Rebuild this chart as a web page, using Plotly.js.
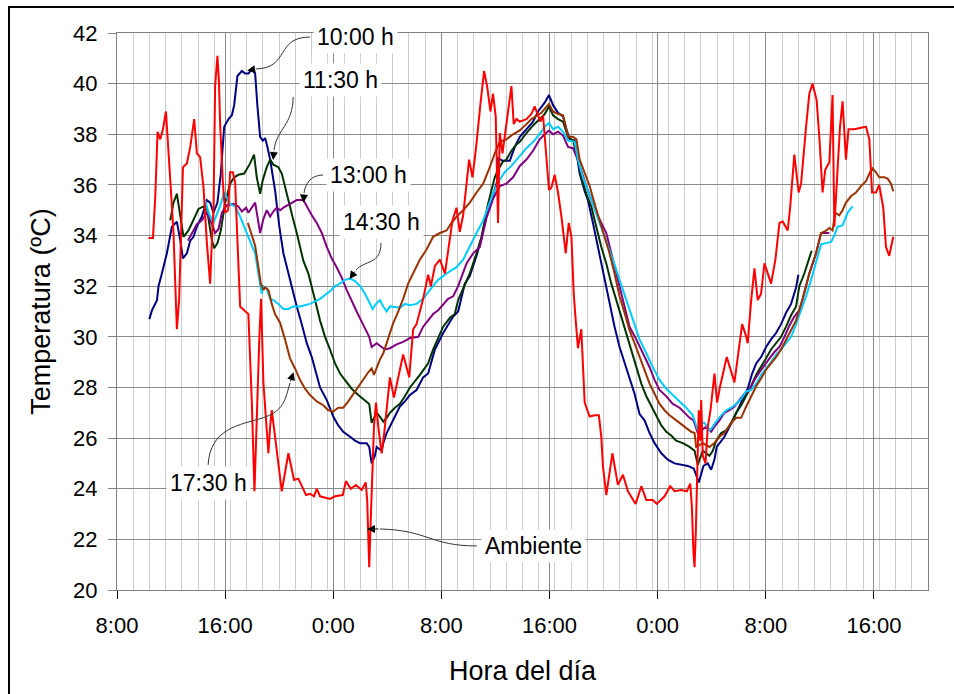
<!DOCTYPE html>
<html><head><meta charset="utf-8">
<script src="https://cdn.plot.ly/plotly-3.0.1.min.js"></script>
<style>
html,body{margin:0;padding:0;background:#fff;}
#wrap{position:relative;width:954px;height:694px;overflow:hidden;}
#chart{width:954px;height:694px;}
#frame{position:absolute;left:8px;top:6px;width:960px;height:700px;border-top:2px solid #000;border-left:2px solid #000;pointer-events:none;}
</style></head><body>
<div id="wrap"><div id="chart"></div><div id="frame"></div></div>
<script>
// x = hours elapsed since 8:00 of the first day, y = temperature (ºC)
const xTickVals = [0,8,16,24,32,40,48,56];
const xTickLabels = ['8:00','16:00','0:00','8:00','16:00','0:00','8:00','16:00'];
const seriesNames = ['10:00 h','11:30 h','13:00 h','14:30 h','17:30 h','Ambiente'];

const s1000 = [[2.39,30.7],[2.59,31.05],[2.96,31.45],[3.07,32.0],[3.32,32.5],[3.69,33.3],[4.06,34.35],[4.43,34.55],[4.68,33.8],[4.88,33.1],[5.17,33.3],[5.42,33.8],[5.66,33.95],[5.91,34.35],[6.28,34.75],[6.65,35.4],[6.89,35.3],[7.14,34.9],[7.43,35.3],[7.68,36.45],[7.93,38.3],[8.25,38.6],[8.50,38.75],[8.67,39.15],[8.91,40.3],[9.24,40.5],[9.48,40.4],[9.72,40.4],[9.97,40.55],[10.22,40.4],[10.39,39.1],[10.59,37.9],[10.79,37.75],[10.96,37.85],[11.13,37.5],[11.33,37.0],[11.69,35.8],[12.01,34.35],[12.31,33.3],[12.60,32.65],[12.93,32.0],[13.30,31.2],[13.67,30.5],[14.04,29.75],[14.41,29.2],[14.65,28.7],[15.02,28.0],[15.52,27.5],[16.00,26.85],[16.37,26.5],[16.74,26.25],[17.24,26.05],[17.61,25.9],[17.98,25.8],[18.47,25.8],[18.66,25.65],[18.84,25.0],[19.08,25.3],[19.21,25.65],[19.58,25.5],[19.70,25.8],[19.95,26.2],[20.32,26.6],[20.69,27.0],[20.93,27.25],[21.30,27.45],[21.67,27.7],[22.16,27.9],[22.65,28.4],[23.02,28.55],[23.52,29.5],[24.13,30.15],[24.87,30.8],[25.24,31.0],[25.73,32.1],[26.10,32.4],[26.60,33.2],[26.97,33.9],[27.21,34.5],[27.45,35.1],[27.71,35.4],[27.95,35.8],[28.16,36.2],[28.19,37.05],[28.56,36.95],[29.06,36.95],[29.43,37.5],[29.80,37.9],[30.29,38.2],[30.78,38.5],[31.15,38.9],[31.64,39.25],[31.96,39.55],[32.26,39.15],[32.63,38.85],[33.00,38.7],[33.25,38.2],[33.49,37.8],[33.86,37.75],[34.23,36.45],[34.60,35.75],[34.84,35.4],[35.21,34.5],[35.58,33.55],[35.95,32.65],[36.20,32.0],[36.44,31.4],[36.81,30.4],[37.18,29.6],[37.92,28.3],[38.29,27.75],[38.66,26.95],[39.03,26.7],[39.40,26.2],[39.77,25.8],[40.27,25.4],[40.75,25.15],[41.25,25.0],[41.74,24.95],[42.23,24.9],[42.67,24.8],[43.04,24.25],[43.39,24.9],[43.71,25.0],[43.96,24.75],[44.20,25.15],[44.37,25.65],[44.70,25.9],[44.94,26.05],[45.56,26.7],[45.93,27.1],[46.29,27.5],[46.66,27.95],[46.99,28.55],[47.29,28.95],[47.65,29.2],[48.02,29.6],[48.39,29.9],[48.76,30.15],[49.13,30.5],[49.50,30.95],[49.87,31.3],[50.24,31.95],[50.41,32.45]];

const s1130 = [[3.94,34.6],[4.18,35.3],[4.43,35.65],[4.68,34.75],[4.92,33.95],[5.29,34.2],[5.66,34.6],[6.03,35.05],[6.40,35.15],[6.67,35.0],[7.02,33.8],[7.19,33.5],[7.43,33.7],[7.68,34.2],[8.00,35.3],[8.37,36.05],[8.67,36.3],[8.98,36.4],[9.41,36.45],[9.85,36.85],[10.14,37.2],[10.34,36.3],[10.59,35.65],[10.79,36.2],[11.08,36.7],[11.33,37.0],[11.57,36.8],[11.94,36.7],[12.19,36.45],[12.43,35.9],[12.80,35.15],[13.05,34.6],[13.30,34.1],[13.54,33.55],[13.79,33.0],[14.16,32.5],[14.41,32.0],[14.65,31.45],[15.02,30.65],[15.39,30.0],[15.76,29.5],[16.13,28.95],[16.50,28.55],[16.87,28.3],[17.36,27.95],[17.85,27.7],[18.35,27.5],[18.66,27.35],[18.84,26.6],[19.21,27.0],[19.45,26.85],[19.70,26.65],[19.95,26.8],[20.19,27.0],[20.56,27.2],[20.93,27.35],[21.30,27.65],[21.67,28.0],[22.41,28.5],[23.02,28.95],[23.39,29.5],[23.76,29.95],[24.13,30.4],[24.63,30.75],[24.99,30.9],[25.24,31.45],[25.61,31.9],[26.10,32.5],[26.60,33.3],[26.97,33.95],[27.21,34.6],[27.45,35.25],[27.71,35.8],[27.95,36.3],[28.19,36.6],[28.52,36.9],[28.81,37.0],[29.18,37.35],[29.55,37.6],[29.80,37.7],[30.29,38.05],[30.78,38.35],[31.27,38.6],[31.64,38.8],[31.96,39.1],[32.26,38.75],[32.63,38.6],[33.00,38.5],[33.37,37.9],[33.74,37.75],[34.10,37.0],[34.35,36.3],[34.72,35.65],[35.09,35.15],[35.46,34.35],[35.83,33.55],[36.20,32.9],[36.57,32.1],[36.94,31.45],[37.31,30.8],[37.68,30.15],[38.05,29.5],[38.42,28.8],[38.79,28.15],[39.16,27.65],[39.53,27.25],[39.90,26.85],[40.27,26.5],[40.64,26.25],[41.00,26.1],[41.37,25.9],[41.86,25.8],[42.36,25.65],[42.73,25.5],[42.97,24.95],[43.34,25.5],[43.59,25.4],[43.83,25.3],[44.08,25.5],[44.33,25.9],[44.70,26.2],[45.07,26.3],[45.44,26.6],[45.81,27.0],[46.18,27.3],[46.55,27.65],[46.91,28.05],[47.29,28.5],[47.65,28.8],[48.02,29.15],[48.39,29.5],[48.76,29.75],[49.13,30.0],[49.50,30.4],[49.87,30.85],[50.24,31.2],[50.48,32.0],[50.85,32.5],[51.10,32.9],[51.39,33.4]];

const s1300 = [[5.25,33.8],[5.54,34.1],[5.91,34.45],[6.28,34.6],[6.65,34.9],[7.02,34.45],[7.26,34.1],[7.51,34.25],[7.76,34.9],[8.13,35.2],[8.61,35.25],[8.98,35.15],[9.24,34.95],[9.55,35.1],[9.72,34.9],[10.22,35.3],[10.39,34.75],[10.59,34.1],[10.83,34.65],[11.08,35.0],[11.33,34.75],[11.57,34.95],[11.82,35.1],[12.07,35.0],[12.31,35.1],[12.93,35.3],[13.30,35.4],[13.79,35.4],[14.04,35.15],[14.41,34.8],[14.78,34.5],[15.15,34.1],[15.52,33.55],[15.88,33.1],[16.25,32.75],[16.62,32.35],[16.99,31.85],[17.36,31.4],[17.73,31.0],[18.10,30.6],[18.47,30.2],[18.66,30.0],[18.84,29.6],[19.21,29.75],[19.82,29.5],[20.19,29.55],[20.69,29.7],[21.17,29.8],[21.67,29.95],[22.29,30.0],[22.65,30.4],[23.39,30.9],[23.76,31.05],[24.50,31.5],[24.87,31.6],[25.24,32.0],[25.86,32.9],[26.35,33.3],[26.84,33.55],[27.34,34.7],[27.82,35.45],[28.32,35.95],[28.81,36.05],[29.30,36.3],[29.80,36.75],[30.29,37.0],[30.78,37.35],[31.27,37.8],[31.64,38.0],[31.96,38.15],[32.26,38.0],[32.63,38.1],[33.00,37.95],[33.37,37.5],[33.74,37.45],[34.08,37.0],[34.72,35.95],[35.46,34.9],[36.20,34.1],[36.69,33.05],[37.31,31.7],[37.92,30.4],[38.42,29.9],[38.91,29.35],[39.40,28.8],[39.77,28.3],[40.14,27.9],[40.64,27.65],[41.12,27.35],[41.62,27.2],[41.99,27.0],[42.36,26.8],[42.65,26.7],[42.97,26.2],[43.59,26.45],[43.96,26.25],[44.20,26.45],[44.57,26.7],[44.94,27.0],[45.31,27.1],[45.68,27.25],[46.05,27.5],[46.42,27.75],[46.79,27.9],[47.16,28.3],[47.53,28.6],[47.90,28.9],[48.27,29.15],[48.64,29.4],[49.01,29.6],[49.38,30.0],[49.75,30.45],[50.11,30.8],[50.48,31.05],[50.73,31.5],[51.22,32.5],[51.72,33.3],[52.09,34.1],[52.70,34.1]];

const s1430 = [[6.52,35.4],[6.77,34.9],[7.14,34.5],[7.65,35.2],[7.93,35.7],[8.13,35.5],[8.37,35.25],[8.74,35.15],[9.11,34.75],[9.48,34.25],[9.85,33.8],[10.22,33.3],[10.46,32.5],[10.71,31.7],[10.83,32.0],[11.08,31.9],[11.33,31.5],[11.57,31.45],[11.94,31.3],[12.31,31.1],[12.68,31.1],[13.05,31.2],[13.54,31.2],[13.91,31.25],[14.28,31.3],[14.65,31.4],[15.02,31.5],[15.39,31.65],[15.76,31.8],[16.13,32.0],[16.50,32.1],[16.87,32.25],[17.24,32.3],[17.61,32.2],[17.98,32.0],[18.35,31.7],[18.66,31.4],[18.91,31.1],[19.16,31.3],[19.45,31.45],[19.70,31.2],[19.95,31.0],[20.19,31.2],[20.93,31.15],[21.30,31.3],[21.67,31.25],[22.16,31.3],[22.65,31.5],[23.15,31.85],[23.76,32.25],[24.38,32.5],[25.12,32.75],[25.61,33.05],[26.10,33.6],[26.60,34.1],[27.09,34.6],[27.45,35.15],[27.82,35.65],[28.19,36.1],[28.68,36.5],[29.18,36.75],[29.80,37.15],[30.29,37.45],[30.78,37.7],[31.27,38.0],[31.64,38.3],[31.96,38.45],[32.26,38.2],[32.63,38.3],[33.00,38.1],[33.37,37.75],[33.86,37.7],[34.10,37.0],[34.47,36.3],[34.84,35.8],[35.21,35.25],[35.70,34.5],[36.20,33.8],[36.69,33.05],[37.18,32.25],[37.68,31.45],[38.17,30.6],[38.66,29.9],[39.16,29.35],[39.64,28.8],[40.14,28.3],[40.64,27.95],[41.12,27.7],[41.62,27.45],[42.11,27.2],[42.60,26.9],[42.97,26.3],[43.22,26.6],[43.47,26.6],[43.83,26.3],[44.08,26.45],[44.33,26.65],[44.70,26.9],[45.07,27.1],[45.44,27.2],[45.81,27.35],[46.18,27.55],[46.55,27.85],[46.91,27.9],[47.29,28.15],[47.65,28.5],[48.02,28.75],[48.39,29.0],[48.76,29.3],[49.13,29.5],[49.50,29.75],[49.87,30.0],[50.24,30.5],[50.98,31.6],[51.35,32.25],[51.72,32.9],[51.91,33.3],[52.09,33.65],[52.46,33.7],[52.83,33.75],[53.07,34.0],[53.31,34.35],[53.68,34.4],[54.05,34.9],[54.42,35.15]];

const s1730 = [[9.68,34.5],[9.97,34.05],[10.22,33.6],[10.46,32.75],[10.64,32.1],[10.83,31.85],[10.96,31.95],[11.20,31.85],[11.45,31.3],[11.69,30.9],[12.07,30.55],[12.43,29.9],[12.80,29.15],[13.17,28.75],[13.54,28.3],[13.91,27.95],[14.28,27.7],[14.78,27.45],[15.26,27.3],[15.63,27.1],[16.00,27.05],[16.37,27.2],[16.74,27.2],[17.11,27.45],[17.48,27.75],[17.85,28.0],[18.22,28.3],[18.59,28.6],[18.84,28.75],[19.01,28.5],[19.45,29.1],[19.70,29.35],[19.95,29.75],[20.19,30.15],[20.44,30.55],[20.69,30.85],[21.06,31.3],[21.17,31.5],[21.54,32.1],[21.91,32.5],[22.41,33.05],[22.90,33.45],[23.39,33.95],[23.89,34.1],[24.38,34.2],[24.75,34.5],[25.12,34.75],[25.61,35.0],[26.10,35.3],[26.60,35.7],[27.09,36.05],[27.58,36.7],[27.95,37.25],[28.32,37.7],[28.81,37.8],[29.30,38.0],[29.80,38.15],[30.29,38.4],[30.66,38.6],[31.40,38.85],[31.64,39.0],[31.96,39.2],[32.26,38.9],[32.63,38.8],[33.00,38.75],[33.37,37.9],[33.74,37.9],[33.99,37.8],[34.23,37.0],[34.60,36.45],[34.97,35.95],[35.34,35.25],[35.70,34.6],[36.08,33.95],[36.44,33.3],[36.81,32.5],[37.18,31.6],[37.55,30.95],[37.92,30.25],[38.29,29.75],[38.66,29.2],[39.03,28.7],[39.40,28.15],[39.77,27.75],[40.14,27.35],[40.51,27.1],[40.88,26.9],[41.62,26.6],[42.11,26.4],[42.48,26.25],[42.73,26.2],[42.85,25.65],[43.34,25.8],[43.83,25.65],[44.20,25.8],[44.57,26.05],[44.94,26.2],[45.44,26.6],[45.81,26.8],[46.18,26.8],[46.55,27.25],[46.91,27.65],[47.29,28.05],[47.65,28.35],[48.02,28.7],[48.39,28.95],[48.76,29.2],[49.13,29.5],[49.50,29.9],[49.87,30.25],[50.24,30.65],[50.73,31.5],[51.22,32.5],[51.72,33.3],[52.09,34.1],[52.33,34.15],[52.70,34.3],[52.94,34.2],[53.14,34.9],[53.43,34.8],[53.68,35.0],[53.93,35.3],[54.30,35.55],[54.67,35.7],[55.04,35.95],[55.41,36.15],[55.71,36.5],[55.90,36.65],[56.15,36.5],[56.39,36.3],[56.76,36.3],[57.01,36.25],[57.26,36.05],[57.43,35.75]];

const ambiente = [[2.33,33.9],[2.66,33.9],[2.83,35.5],[3.00,38.1],[3.20,37.8],[3.40,38.2],[3.62,38.9],[3.75,37.6],[3.94,36.2],[4.18,34.1],[4.43,30.3],[4.60,31.5],[4.75,34.1],[4.88,36.7],[5.17,36.85],[5.42,37.5],[5.71,38.6],[5.91,37.25],[6.15,37.1],[6.40,35.9],[6.65,33.7],[6.89,32.1],[7.02,33.8],[7.14,35.1],[7.26,39.9],[7.43,41.1],[7.54,40.1],[7.63,38.4],[7.83,36.1],[8.00,34.9],[8.22,35.0],[8.37,36.5],[8.57,36.5],[8.74,36.1],[8.91,33.8],[9.11,31.2],[9.50,31.0],[9.72,30.9],[9.97,27.5],[10.17,23.9],[10.54,30.1],[10.66,31.5],[10.83,28.2],[11.08,26.2],[11.20,25.4],[11.33,26.45],[11.45,27.1],[11.82,25.5],[12.19,23.9],[12.68,25.4],[13.10,24.35],[13.42,24.4],[13.99,23.75],[14.28,23.8],[14.58,23.7],[14.78,24.0],[15.02,23.7],[15.76,23.6],[16.13,23.7],[16.70,23.75],[16.94,24.3],[17.29,24.0],[17.68,24.15],[18.10,23.95],[18.40,24.25],[18.51,23.55],[18.59,22.4],[18.66,20.9],[18.74,22.25],[18.84,24.2],[19.01,26.45],[19.16,27.4],[19.33,26.45],[19.58,25.4],[19.77,26.2],[20.19,28.4],[20.49,27.6],[20.81,28.4],[21.17,29.3],[21.62,28.4],[21.91,30.3],[22.16,30.5],[22.65,31.5],[23.02,32.45],[23.22,32.0],[23.52,32.8],[23.89,33.05],[24.26,32.5],[24.82,34.6],[25.12,35.1],[25.36,34.15],[25.61,34.8],[25.81,35.9],[26.05,37.0],[26.30,36.3],[26.55,37.4],[26.89,39.2],[27.16,40.5],[27.38,39.9],[27.63,38.9],[27.82,39.6],[28.02,38.7],[28.19,34.5],[28.32,38.05],[28.52,37.25],[29.18,39.9],[29.35,38.4],[29.55,38.6],[29.80,38.5],[30.29,38.6],[30.66,38.8],[30.90,39.1],[31.15,38.75],[31.33,38.5],[31.52,38.75],[31.77,37.1],[31.96,35.8],[32.14,35.9],[32.38,36.4],[32.63,35.7],[32.88,34.75],[33.20,33.3],[33.42,34.5],[33.62,33.95],[33.79,31.7],[33.93,30.7],[34.10,29.55],[34.35,30.3],[34.60,27.4],[34.97,26.85],[35.34,26.9],[35.65,26.9],[35.83,26.05],[35.95,24.9],[36.20,23.75],[36.65,25.4],[37.06,24.15],[37.43,24.55],[37.80,23.9],[38.37,23.4],[38.79,24.1],[39.16,23.55],[39.64,23.55],[39.94,23.4],[40.51,23.7],[40.93,24.1],[41.25,23.9],[41.74,23.95],[42.16,23.9],[42.41,24.2],[42.53,23.3],[42.65,21.45],[42.73,20.9],[42.82,22.25],[42.93,24.9],[43.04,27.1],[43.15,25.9],[43.22,27.5],[43.34,25.3],[43.54,25.0],[43.71,26.45],[43.91,27.1],[44.20,28.55],[44.40,27.4],[44.62,28.05],[45.11,29.2],[45.68,28.2],[46.25,30.5],[46.55,30.0],[46.66,29.75],[46.91,31.4],[47.16,32.7],[47.40,31.45],[47.65,31.7],[47.90,32.9],[48.39,32.1],[48.71,33.05],[49.01,34.5],[49.25,34.55],[49.62,34.2],[49.80,35.1],[50.11,37.2],[50.43,35.7],[50.61,36.05],[50.98,38.3],[51.22,39.6],[51.46,40.0],[51.76,39.35],[51.96,37.9],[52.20,35.7],[52.40,36.6],[52.70,36.9],[52.94,39.55],[53.07,34.35],[53.31,36.6],[53.49,38.3],[53.68,39.3],[53.93,37.0],[54.12,38.2],[54.55,38.2],[55.41,38.3],[55.66,37.8],[55.86,35.7],[56.15,35.7],[56.39,36.0],[56.69,35.1],[56.89,33.55],[57.13,33.2],[57.43,33.95]];

const allSeries = [s1000, s1130, s1300, s1430, s1730, ambiente];
const seriesColors = ['#000080','#003300','#800080','#00ccff','#993300','#ff0000'];
const drawOrder = [0,1,2,3,4,5];

const FONT = 'Liberation Sans, Arial, Helvetica, sans-serif';

const traces = drawOrder.map(i => ({
  type: 'scatter', mode: 'lines', name: seriesNames[i],
  x: allSeries[i].map(p => p[0]),
  y: allSeries[i].map(p => p[1]),
  line: {color: seriesColors[i], width: 2},
  hoverinfo: 'skip'
}));

// callouts: label position, curved leader (cubic), arrow tail and tip
const callouts = [
  {text:'10:00 h', lx:17.61, ly:41.86, path:'M 14.28,41.84 C 11.70,41.84 12.80,40.62 10.29,40.58', tail:[10.29,40.58], tip:[9.63,40.52]},
  {text:'11:30 h', lx:16.50, ly:40.14, path:'M 13.03,39.47 C 13.03,38.37 11.77,38.17 11.62,37.38', tail:[11.62,37.38], tip:[11.55,36.98]},
  {text:'13:00 h', lx:18.57, ly:36.39, path:'M 15.24,36.39 C 14.28,36.39 13.91,36.0 13.84,35.68', tail:[13.84,35.68], tip:[13.79,35.30]},
  {text:'14:30 h', lx:19.60, ly:34.54, path:'M 19.53,33.71 C 19.53,32.84 18.35,33.04 17.68,32.64', tail:[17.68,32.64], tip:[17.20,32.28]},
  {text:'17:30 h', lx:6.74, ly:24.23, path:'M 6.74,24.94 C 6.89,26.40 9.11,26.52 10.73,26.79 S 12.44,27.51 12.80,28.18', tail:[12.80,28.18], tip:[13.06,28.60]},
  {text:'Ambiente', lx:30.83, ly:21.72, path:'M 26.62,21.74 C 23.15,21.74 23.0,22.37 19.45,22.41', tail:[19.45,22.41], tip:[18.49,22.41]}
];

const shapes = callouts.map(c => ({
  type:'path', xref:'x', yref:'y', path:c.path,
  line:{color:'#333', width:1}, layer:'above'
}));

const annotations = [];
callouts.forEach(c => {
  annotations.push({
    x:c.tip[0], y:c.tip[1], ax:c.tail[0], ay:c.tail[1], axref:'x', ayref:'y',
    xref:'x', yref:'y', text:'', showarrow:true, arrowhead:2, arrowsize:1.6,
    arrowwidth:1, arrowcolor:'#000', standoff:0
  });
  annotations.push({
    x:c.lx, y:c.ly, xref:'x', yref:'y', text:c.text, showarrow:false,
    bgcolor:'#ffffff', borderpad:3, font:{family:FONT, size:23, color:'#000'}
  });
});

const layout = {
  width: 954, height: 694,
  margin: {l:117, r:26, t:33, b:104, pad:0},
  paper_bgcolor:'#ffffff', plot_bgcolor:'#ffffff',
  showlegend:false,
  font:{family:FONT, color:'#000'},
  xaxis:{
    range:[0,60], tickmode:'array', tickvals:xTickVals, ticktext:xTickLabels,
    showgrid:true, gridcolor:'#8a8a8a', gridwidth:1,
    ticks:'outside', ticklen:8, tickcolor:'#000', tickwidth:1, ticklabelstandoff:8,
    showline:true, linecolor:'#808080', linewidth:1, mirror:true,
    zeroline:false, tickfont:{family:FONT, size:22, color:'#000'},
    minor:{tickmode:'linear', tick0:0, dtick:1.2, showgrid:true, gridcolor:'#cdcdcd', gridwidth:1, ticks:''},
    title:{text:'Hora del día', font:{family:FONT, size:27, color:'#000'}, standoff:23}
  },
  yaxis:{
    range:[20,42], tickmode:'linear', tick0:20, dtick:2,
    showgrid:true, gridcolor:'#8a8a8a', gridwidth:1,
    ticks:'outside', ticklen:8, tickcolor:'#808080', tickwidth:1, ticklabelstandoff:6,
    showline:true, linecolor:'#808080', linewidth:1, mirror:true,
    zeroline:false, tickfont:{family:FONT, size:22, color:'#000'},
    title:{text:'Temperatura (ºC)', font:{family:FONT, size:27, color:'#000'}, standoff:14}
  },
  shapes: shapes,
  annotations: annotations
};

Plotly.newPlot('chart', traces, layout, {staticPlot:true, displayModeBar:false});
</script>
</body></html>
